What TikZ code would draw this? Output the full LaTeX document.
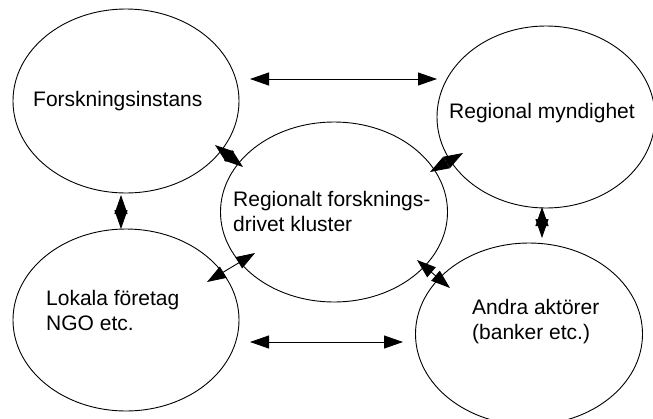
\documentclass[tikz,border=0pt]{standalone}
\usepackage{fontspec}
\setmainfont{Liberation Sans}
\usetikzlibrary{arrows.meta,shapes.geometric}
\begin{document}
\begin{tikzpicture}[x=1pt,y=-1pt,
  blob/.style={draw, ellipse, line width=0.9pt, inner sep=0pt},
  lbl/.style={anchor=west, font=\fontsize{21}{25}\selectfont, align=left, inner sep=0pt},
  link/.style={line width=0.9pt, {Triangle[length=19pt,width=13pt]}-{Triangle[length=19pt,width=13pt]}}]
\fill[white] (0,0) rectangle (653,418);
\useasboundingbox (0,0) rectangle (653,418);
% ellipses
\node[blob, minimum width=226pt, minimum height=184pt] (fi) at (126,101) {};
\node[blob, minimum width=218pt, minimum height=182pt] (rm) at (546,117) {};
\node[blob, minimum width=227pt, minimum height=180pt] (kl) at (334,212) {};
\node[blob, minimum width=226pt, minimum height=182pt] (lf) at (126,320) {};
\node[blob, minimum width=227pt, minimum height=182pt] (aa) at (529,334) {};
% labels
\node[lbl] (tfi) at (33,101) {Forskningsinstans};
\node[lbl] (trm) at (449,113) {Regional myndighet};
\node[lbl] (tkl) at (233,211) {Regionalt forsknings-\\drivet kluster};
\node[lbl] (tlf) at (46,310) {Lokala företag\\NGO etc.};
\node[lbl] (taa) at (472,322) {Andra aktörer\\(banker etc.)};
% arrow end points
\coordinate (a1) at (250,79);  \coordinate (b1) at (437,79);
\coordinate (a2) at (250,342); \coordinate (b2) at (403,342);
\coordinate (a3) at (121,195); \coordinate (b3) at (121,229);
\coordinate (a4) at (542,207); \coordinate (b4) at (542,238);
\coordinate (a5) at (215,145); \coordinate (b5) at (243,167);
\coordinate (a6) at (430,172); \coordinate (b6) at (463,153);
\coordinate (a7) at (207,282); \coordinate (b7) at (255,253);
\coordinate (a8) at (417,260); \coordinate (b8) at (450,288);
% connectors
\draw[link] (a1) -- (b1);
\draw[link] (a2) -- (b2);
\draw[link] (a3) -- (b3);
\draw[link] (a4) -- (b4);
\draw[link] (a5) -- (b5);
\draw[link] (a6) -- (b6);
\draw[link] (a7) -- (b7);
\draw[link] (a8) -- (b8);
\end{tikzpicture}
\end{document}
